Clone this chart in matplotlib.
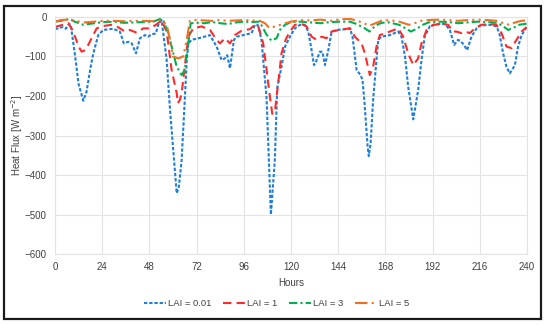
import matplotlib.pyplot as plt
from matplotlib.patches import Rectangle

# Valores (horas, fluxo de calor em W m-2)
h_lai001 = [0, 1, 2, 4, 5.5, 7, 8, 10, 12, 14.4, 16, 18, 19.5, 22, 24.5, 29.5, 33, 35, 37.3,
            39, 41.2, 43.2, 45.8, 47.4, 49.1, 51.3, 52.5, 54.2, 56.8, 58.5, 61.9, 63, 64.4,
            66, 67, 67.8, 69.5, 74.6, 78.8, 82.2, 84.7, 86.4, 87.6, 89, 91, 92.4, 97.5, 100,
            101.7, 103, 103.9, 105, 107.6, 109.8, 111.8, 113, 115.2, 117, 119.5, 122, 124.6,
            127, 128.8, 130.5, 131.7, 132.4, 134.7, 136, 137.3, 139, 140.7, 143.2, 148.3, 150,
            151.3, 153.4, 154.3, 155.4, 156.4, 157.3, 159, 159.6, 160.5, 161.8, 163.2, 164.4,
            166, 170.3, 174.5, 176.2, 178, 179.6, 182.2, 184.7, 186.4, 188, 190.6, 194, 198.3,
            200.8, 203, 205, 206.5, 208, 209.6, 211.8, 214.4, 216, 221, 224.5, 226, 227.9,
            229.6, 231.3, 233.9, 235.5, 237.3, 239.8]
v_lai001 = [-30, -30, -27, -26, -30, -18, -20, -90, -170, -212, -190, -130, -92, -46, -33, -30,
            -37, -67, -63, -67, -92, -54, -46, -50, -44, -42, -20, -8, -109, -235, -446, -430,
            -362, -210, -109, -67, -58, -52, -46, -75, -109, -105, -97, -130, -58, -50, -44,
            -41, -20, -20, -33, -58, -205, -500, -362, -180, -126, -75, -50, -29, -20, -20,
            -37, -84, -122, -118, -88, -88, -122, -84, -37, -33, -31, -29, -50, -134, -140,
            -147, -160, -210, -328, -352, -320, -210, -126, -58, -50, -46, -37, -50, -100,
            -176, -259, -185, -109, -50, -24, -18, -18, -33, -71, -58, -62, -71, -84, -50,
            -29, -22, -20, -24, -41, -92, -126, -143, -122, -75, -46, -26]

h_lai1 = [0, 1, 4, 6.8, 8.5, 10.2, 12, 13.6, 15.3, 17, 18.6, 21.2, 24.6, 28.8, 31.4, 35.6,
          38.1, 41.5, 44.9, 48.3, 51.3, 54.2, 56.8, 59.3, 61.9, 62.5, 63.5, 64.4, 66, 67.8,
          70.3, 74.6, 78.8, 82.2, 83.9, 86.4, 89, 91.5, 94.9, 99.1, 101.7, 103.4, 105.9,
          107.6, 109.3, 110.5, 111.8, 113.5, 115.2, 117.5, 119.5, 122, 125.4, 128, 130.5,
          133, 135.6, 138.1, 140.7, 146.6, 150, 152.5, 155.9, 157.6, 160.1, 161.8, 163.5,
          165.2, 170.3, 174.5, 177.1, 179.6, 182.2, 184.7, 186.4, 189, 192.3, 197.4, 200,
          202.2, 204, 206.8, 208.5, 211, 213.5, 216.9, 221, 224.5, 227.1, 229.6, 232.2,
          234.7, 237.3, 239.8]
v_lai1 = [-25, -24, -20, -16, -30, -50, -75, -88, -84, -70, -54, -29, -23, -20, -24, -37,
          -33, -40, -29, -29, -20, -9, -37, -134, -193, -218, -210, -193, -126, -50, -29,
          -24, -33, -58, -67, -54, -67, -46, -35, -31, -20, -24, -67, -134, -202, -245,
          -240, -168, -92, -55, -37, -20, -18, -24, -50, -58, -50, -54, -37, -31, -29, -50,
          -67, -92, -147, -126, -75, -46, -37, -29, -50, -92, -122, -105, -67, -33, -20,
          -18, -20, -37, -37, -41, -37, -41, -29, -20, -18, -20, -41, -75, -79, -58, -37, -26]

h_lai3 = [0, 3, 7.6, 10, 14.4, 17, 20, 25, 30, 35, 40, 45, 50, 53.5, 55, 57.6, 59.3, 61.9,
          64.4, 66, 67.8, 69, 72, 76, 80, 84, 88, 92, 96, 100, 104, 106, 107.6, 110, 112.7,
          114.4, 117, 120, 125, 130, 135, 140, 145, 150, 153.4, 157.6, 160, 163, 166, 170,
          175, 178, 181, 184, 187, 190, 195, 200, 205, 210, 215, 220, 225, 228, 230.5, 233,
          236, 240]
v_lai3 = [-12, -10, -5, -12, -20, -18, -16, -13, -12, -15, -14, -13, -12, -5, -8, -41, -75,
          -126, -147, -134, -67, -16, -15, -16, -13, -16, -18, -14, -12, -13, -12, -30, -45,
          -60, -54, -33, -20, -13, -12, -14, -16, -13, -12, -12, -18, -29, -37, -22, -15,
          -14, -20, -28, -37, -30, -20, -14, -12, -13, -16, -14, -12, -13, -15, -24, -33,
          -28, -20, -17]

h_lai5 = [0, 3, 6, 10, 15, 20, 25, 30, 35, 40, 45, 50, 54, 56.8, 58.5, 60.1, 62.7, 65.2,
          67, 68.6, 72, 76, 80, 84, 88, 92, 96, 100, 104, 106.8, 109, 112, 116, 120, 125,
          130, 135, 140, 145, 150, 154, 158, 160, 163, 166, 170, 175, 180, 183, 186, 190,
          195, 200, 205, 210, 215, 220, 225, 228, 231, 234, 237, 240]
v_lai5 = [-12, -8, -7, -10, -14, -12, -10, -10, -11, -10, -10, -11, -8, -20, -58, -100,
          -105, -100, -58, -10, -8, -9, -10, -8, -10, -9, -8, -9, -10, -16, -28, -24, -18,
          -12, -8, -9, -7, -10, -6, -5, -10, -18, -22, -16, -10, -8, -12, -20, -16, -10, -8,
          -7, -8, -10, -8, -7, -8, -10, -16, -20, -14, -10, -9]

x_ticks = list(range(0, 241, 24))
y_ticks = list(range(-600, 1, 100))

plt.rcParams["font.family"] = ["Liberation Sans", "DejaVu Sans"]
TXT = "#404040"

fig = plt.figure(figsize=(5.5, 3.25), dpi=100)
ax = fig.add_axes([0.1, 0.218, 0.858, 0.730])

ax.plot(h_lai001, v_lai001, color="#1f7fd6", lw=1.5, dashes=(1.6, 0.9), label="LAI = 0.01")
ax.plot(h_lai1, v_lai1, color="#ff2b2b", lw=1.5, dashes=(4, 2.5), label="LAI = 1")
ax.plot(h_lai3, v_lai3, color="#00b050", lw=1.5, dashes=(4, 1.5, 1, 1.5), label="LAI = 3")
ax.plot(h_lai5, v_lai5, color="#f07020", lw=1.5, dashes=(6, 2, 1, 2, 1, 2), label="LAI = 5")

ax.set_xlim(0, 240)
ax.set_ylim(-600, 0)
ax.set_xticks(x_ticks)
ax.set_yticks(y_ticks)
ax.grid(True, color="#e3e3e3", lw=0.8)
ax.set_axisbelow(True)
for s in ax.spines.values():
    s.set_color("#e3e3e3")
ax.tick_params(length=0, labelsize=7, colors=TXT, pad=6)

ax.set_xlabel("Hours", fontsize=7, color=TXT, labelpad=4)
ax.set_ylabel("Heat Flux [W m$^{-2}$]", fontsize=7, color=TXT)
ax.yaxis.set_label_coords(-0.064, 0.5)

fig.legend(loc="center", bbox_to_anchor=(0.503, 0.066), ncol=4, frameon=False,
           fontsize=6.8, handlelength=2.3, handletextpad=0.2, columnspacing=1.3,
           labelcolor=TXT)

# moldura externa
fig.patches.append(Rectangle((0.008, 0.02), 0.975, 0.962, transform=fig.transFigure,
                             fill=False, edgecolor="#1a1a1a", lw=1.6))

plt.savefig("out.png", dpi=100)
plt.close()
